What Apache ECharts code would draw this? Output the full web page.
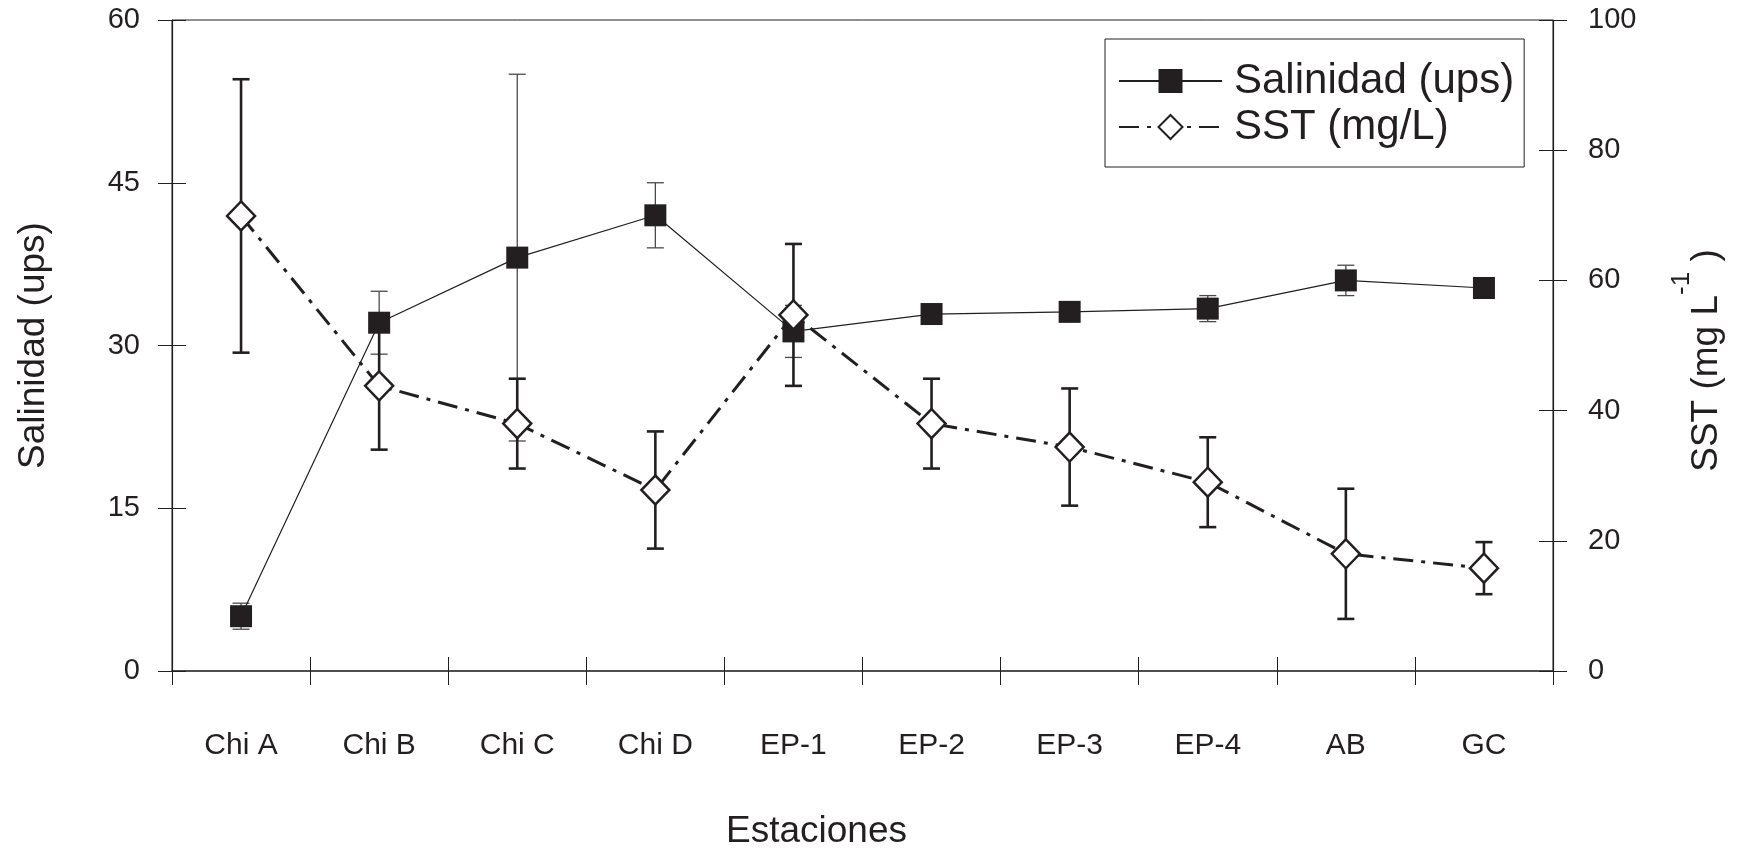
<!DOCTYPE html>
<html>
<head>
<meta charset="utf-8">
<script src="https://cdn.jsdelivr.net/npm/echarts@6/dist/echarts.min.js"></script>
<style>
  html, body { margin: 0; padding: 0; background: #ffffff; }
  #chart { width: 1739px; height: 855px; }
</style>
</head>
<body>
<div id="chart"></div>
<script>
// ---- data ----
const categories = ['Chi A', 'Chi B', 'Chi C', 'Chi D', 'EP-1', 'EP-2', 'EP-3', 'EP-4', 'AB', 'GC'];
const salinity    = [5.05, 32.1, 38.1, 42.0, 31.3, 32.9, 33.1, 33.4, 36.0, 35.3];
const salinityErr = [1.2, 2.9, 16.9, 3.0, 2.4, 0.6, 0.6, 1.2, 1.4, 0.6];
const sst         = [69.9, 43.8, 38.0, 27.8, 54.7, 38.0, 34.4, 29.0, 18.0, 15.8];
const sstErr      = [21.0, 9.8, 6.9, 9.0, 10.9, 6.9, 9.0, 6.9, 10.0, 4.0];
const salinityAxis = { min: 0, max: 60, interval: 15 };
const sstAxis      = { min: 0, max: 100, interval: 20 };

const FONT = '"Liberation Sans", Arial, Helvetica, sans-serif';
const INK = '#231f20';

function errRender(color, width) {
  return function (params, api) {
    const i = api.value(0);
    const lo = api.coord([i, api.value(1)]);
    const hi = api.coord([i, api.value(2)]);
    const x = lo[0];
    const w = 8.5;
    const style = { stroke: color, lineWidth: width, fill: null };
    return {
      type: 'group',
      children: [
        { type: 'line', shape: { x1: x, y1: lo[1], x2: x, y2: hi[1] }, style: style },
        { type: 'line', shape: { x1: x - w, y1: hi[1], x2: x + w, y2: hi[1] }, style: style },
        { type: 'line', shape: { x1: x - w, y1: lo[1], x2: x + w, y2: lo[1] }, style: style }
      ]
    };
  };
}

const salErrData = categories.map((c, i) => [i, salinity[i] - salinityErr[i], salinity[i] + salinityErr[i]]);
const sstErrData = categories.map((c, i) => [i, sst[i] - sstErr[i], sst[i] + sstErr[i]]);

const tickLine = { color: INK, width: 1 };

const option = {
  animation: false,
  backgroundColor: '#ffffff',
  grid: { left: 172, right: 186, top: 20, bottom: 182, show: true, borderColor: INK, borderWidth: 1 },
  legend: {
    orient: 'vertical',
    left: 1105, top: 39,
    padding: [21, 10, 19, 13],
    itemWidth: 103, itemHeight: 30, itemGap: 4,
    borderColor: INK, borderWidth: 1,
    selectedMode: false,
    textStyle: { fontSize: 42, color: INK, fontFamily: FONT, padding: [0, 0, 0, 7] },
    data: ['Salinidad (ups)', 'SST (mg/L)']
  },
  xAxis: [
    {
      type: 'category', data: categories, position: 'bottom', boundaryGap: true,
      axisLine: { show: true, lineStyle: { color: '#3a3a3a', width: 1.5 } },
      axisTick: { show: true, inside: false, length: 14, lineStyle: tickLine },
      axisLabel: { margin: 60, fontSize: 30, color: INK, fontFamily: FONT },
      splitLine: { show: false },
      name: 'Estaciones', nameLocation: 'middle', nameGap: 142,
      nameTextStyle: { fontSize: 37, color: INK, fontFamily: FONT, padding: [0, 92, 0, 0] }
    },
    {
      type: 'category', data: categories, position: 'bottom', boundaryGap: true,
      axisLine: { show: false },
      axisTick: { show: true, inside: true, length: 14, lineStyle: tickLine },
      axisLabel: { show: false }, splitLine: { show: false }
    }
  ],
  yAxis: [
    {
      type: 'value', position: 'left', min: salinityAxis.min, max: salinityAxis.max, interval: salinityAxis.interval,
      axisLine: { show: true, lineStyle: { color: INK, width: 1.2 } },
      axisTick: { show: true, inside: false, length: 14, lineStyle: tickLine },
      axisLabel: { margin: 32, fontSize: 29, color: INK, fontFamily: FONT },
      splitLine: { show: false },
      name: 'Salinidad (ups)', nameLocation: 'middle', nameGap: 120, nameRotate: 90,
      nameTextStyle: { fontSize: 37, color: INK, fontFamily: FONT }
    },
    {
      type: 'value', position: 'right', min: sstAxis.min, max: sstAxis.max, interval: sstAxis.interval,
      axisLine: { show: true, lineStyle: { color: INK, width: 1.2 } },
      axisTick: { show: true, inside: false, length: 14, lineStyle: tickLine },
      axisLabel: { margin: 35, fontSize: 29, color: INK, fontFamily: FONT },
      splitLine: { show: false },
      name: '{a|SST (mg L}{b|-1}{a| )}', nameLocation: 'middle', nameGap: 116, nameRotate: 90,
      nameTextStyle: {
        color: INK, fontFamily: FONT, fontSize: 37,
        padding: [0, 30, 0, 0],
        rich: {
          a: { fontSize: 37, color: INK, fontFamily: FONT, lineHeight: 56, verticalAlign: 'bottom' },
          b: { fontSize: 26, color: INK, fontFamily: FONT, lineHeight: 26, verticalAlign: 'top' }
        }
      }
    },
    {
      type: 'value', position: 'left', min: salinityAxis.min, max: salinityAxis.max, interval: salinityAxis.interval,
      axisLine: { show: false },
      axisTick: { show: true, inside: true, length: 14, lineStyle: tickLine },
      axisLabel: { show: false }, splitLine: { show: false }
    },
    {
      type: 'value', position: 'right', min: sstAxis.min, max: sstAxis.max, interval: sstAxis.interval,
      axisLine: { show: false },
      axisTick: { show: true, inside: true, length: 14, lineStyle: tickLine },
      axisLabel: { show: false }, splitLine: { show: false }
    }
  ],
  series: [
    {
      name: 'salErr', type: 'custom', xAxisIndex: 0, yAxisIndex: 0, z: 1, silent: true,
      encode: { x: 0, y: [1, 2] },
      data: salErrData, renderItem: errRender('#4a4a4a', 1.3)
    },
    {
      name: 'sstErr', type: 'custom', xAxisIndex: 0, yAxisIndex: 1, z: 1, silent: true,
      encode: { x: 0, y: [1, 2] },
      data: sstErrData, renderItem: errRender(INK, 2.6)
    },
    {
      name: 'Salinidad (ups)', type: 'line', xAxisIndex: 0, yAxisIndex: 0, z: 3,
      data: salinity, symbol: 'rect', symbolSize: 22,
      lineStyle: { color: INK, width: 1.2 },
      itemStyle: { color: INK, borderWidth: 0 }
    },
    {
      name: 'SST (mg/L)', type: 'line', xAxisIndex: 0, yAxisIndex: 1, z: 4,
      data: sst, symbol: 'diamond', symbolSize: [28, 29],
      lineStyle: { color: INK, width: 3, type: [20, 8, 4, 8] },
      itemStyle: { color: '#ffffff', borderColor: INK, borderWidth: 2.5 }
    }
  ]
};

const chart = echarts.init(document.getElementById('chart'), null, { renderer: 'canvas' });
chart.setOption(option);
</script>
</body>
</html>
